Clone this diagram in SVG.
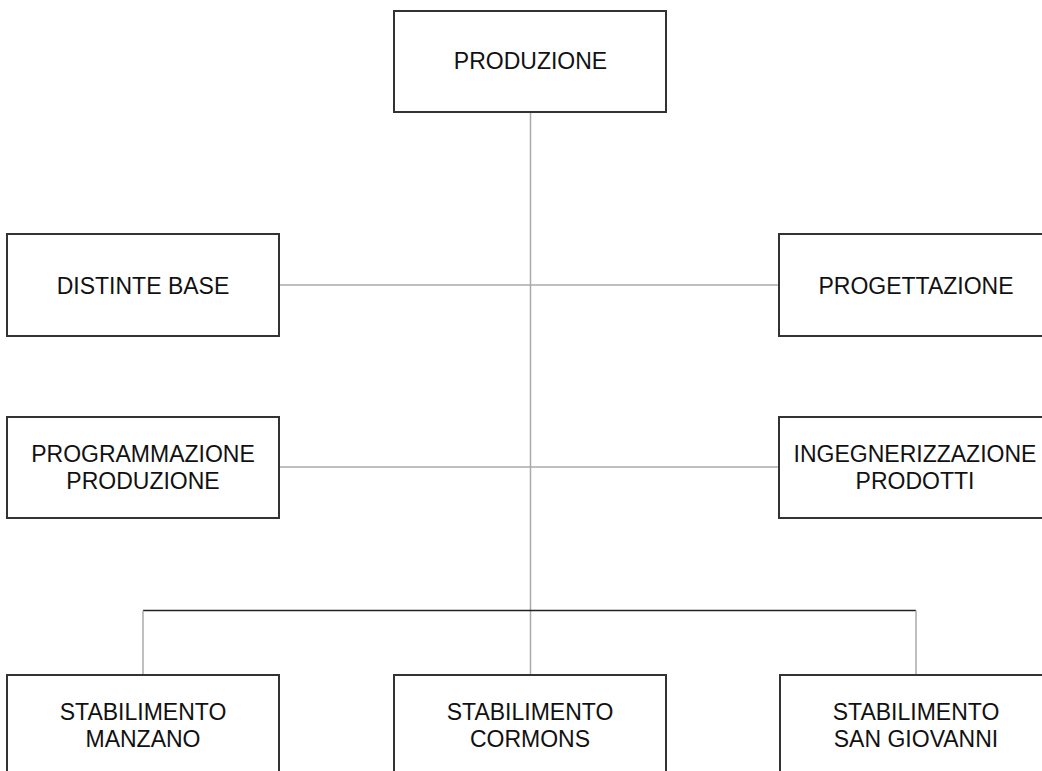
<svg xmlns="http://www.w3.org/2000/svg" width="1042" height="771" viewBox="0 0 1042 771">
<style>
.box{fill:#fff;stroke:#333;stroke-width:2}
.t{font-family:"Liberation Sans",Arial,sans-serif;font-size:23px;fill:#111;text-anchor:middle}
.c{stroke:#aaa;stroke-width:1.5;fill:none}
.cd{stroke:#222;stroke-width:1.5;fill:none}
</style>
<rect width="1042" height="771" fill="#fff"/>
<g id="connectors">
<line class="c" x1="530.5" y1="112" x2="530.5" y2="675"/>
<line class="c" x1="279" y1="285" x2="779" y2="285"/>
<line class="c" x1="279" y1="467" x2="779" y2="467"/>
<line class="cd" x1="143" y1="610.5" x2="916" y2="610.5"/>
<line class="c" x1="143" y1="610.5" x2="143" y2="675"/>
<line class="c" x1="916" y1="610.5" x2="916" y2="675"/>
</g>
<g id="produzione">
<rect class="box" x="394" y="11" width="272" height="101"/>
<text class="t" x="530.5" y="68.5">PRODUZIONE</text>
</g>
<g id="distinte-base">
<rect class="box" x="7" y="234" width="272" height="102"/>
<text class="t" x="143" y="293.5">DISTINTE BASE</text>
</g>
<g id="progettazione">
<rect class="box" x="779" y="234" width="272" height="102"/>
<text class="t" x="916" y="293.5">PROGETTAZIONE</text>
</g>
<g id="programmazione-produzione">
<rect class="box" x="7" y="417" width="272" height="101"/>
<text class="t" x="143" y="462">PROGRAMMAZIONE</text>
<text class="t" x="143" y="489">PRODUZIONE</text>
</g>
<g id="ingegnerizzazione-prodotti">
<rect class="box" x="779" y="417" width="272" height="101"/>
<text class="t" x="915" y="462">INGEGNERIZZAZIONE</text>
<text class="t" x="915" y="489">PRODOTTI</text>
</g>
<g id="stabilimento-manzano">
<rect class="box" x="7" y="675" width="272" height="101"/>
<text class="t" x="143" y="720">STABILIMENTO</text>
<text class="t" x="143" y="747">MANZANO</text>
</g>
<g id="stabilimento-cormons">
<rect class="box" x="394" y="675" width="272" height="101"/>
<text class="t" x="530" y="720">STABILIMENTO</text>
<text class="t" x="530" y="747">CORMONS</text>
</g>
<g id="stabilimento-san-giovanni">
<rect class="box" x="780" y="675" width="272" height="101"/>
<text class="t" x="916" y="720">STABILIMENTO</text>
<text class="t" x="916" y="747">SAN GIOVANNI</text>
</g>
</svg>
